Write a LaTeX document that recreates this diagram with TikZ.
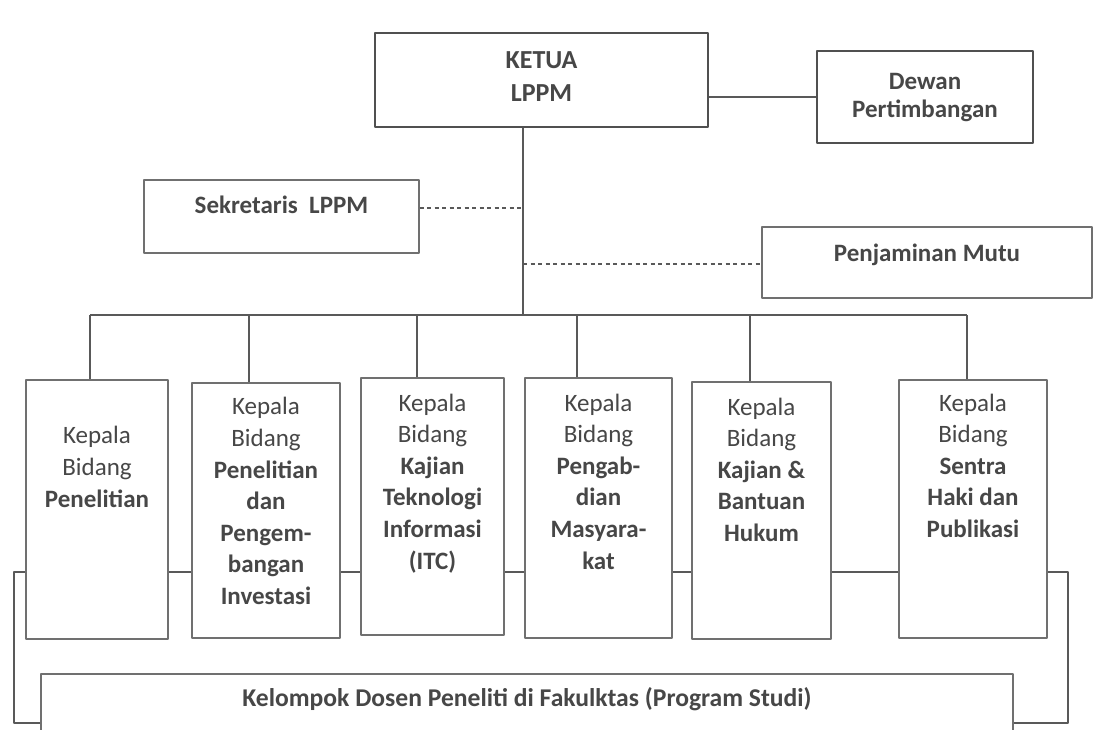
\documentclass[tikz,border=0pt]{standalone}
\usepackage{fontspec}
\setmainfont{Carlito}
\definecolor{tinta}{HTML}{474747}
\definecolor{garis}{HTML}{595959}
\definecolor{tepi}{HTML}{707070}
\begin{document}
\begin{tikzpicture}[x=1pt,y=-1pt,line join=round,
    kotak/.style={draw=tepi,line width=1.3pt,fill=white,inner sep=0pt},
    utama/.style={draw=garis!90!black,line width=2.4pt,fill=white,inner sep=0pt},
    isi/.style={text=tinta,align=center,inner sep=0pt,anchor=base,font=\fontsize{25}{31.6}\selectfont},
    hubung/.style={draw=garis,line width=1.4pt},
    putus/.style={draw=garis,line width=1.4pt,dash pattern=on 4pt off 3.5pt}]
    \clip (0,0) rectangle (1094,730);
    \fill[white] (0,0) rectangle (1094,730);
    % garis kelompok di belakang kotak bidang
    \coordinate (kiri) at (14,572);
    \coordinate (kanan) at (1068,572);
    \coordinate (kiribawah) at (14,723);
    \coordinate (kananbawah) at (1068,723);
    \node[kotak,minimum width=972pt,minimum height=96pt] (kel) at (527,722) {};
    \draw[hubung] (kiribawah -| kel.west) -- (kiribawah) -- (kiri) -- (kanan) -- (kananbawah) -- (kananbawah -| kel.east);
    % kotak atas
    \node[utama,minimum width=333pt,minimum height=94pt] (ketua) at (541.5,80) {};
    \node[utama,minimum width=216pt,minimum height=92pt] (dewan) at (925,97) {};
    \node[kotak,minimum width=275pt,minimum height=73pt] (sek) at (281.5,216.5) {};
    \node[kotak,minimum width=330pt,minimum height=71pt] (pm) at (927,262.5) {};
    % kotak bidang
    \node[kotak,minimum width=142pt,minimum height=259pt] (b1) at (97,509.5) {};
    \node[kotak,minimum width=148pt,minimum height=255pt] (b2) at (266,510.5) {};
    \node[kotak,minimum width=143pt,minimum height=257pt] (b3) at (432.5,506.5) {};
    \node[kotak,minimum width=147pt,minimum height=260pt] (b4) at (598.5,508) {};
    \node[kotak,minimum width=139pt,minimum height=257pt] (b5) at (761.5,510.5) {};
    \node[kotak,minimum width=148pt,minimum height=258pt] (b6) at (973,509) {};
    % teks (base = garis dasar baris terakhir)
    \node[isi,font=\fontsize{26}{33}\selectfont\bfseries] (tketua) at (541.5,102) {KETUA\\LPPM};
    \node[isi,font=\fontsize{25}{28}\selectfont\bfseries] (tdewan) at (925,118) {Dewan\\Pertimbangan};
    \node[isi,font=\fontsize{25}{30}\selectfont\bfseries] (tsek) at (281.5,213) {Sekretaris\ \ LPPM};
    \node[isi,font=\fontsize{25}{30}\selectfont\bfseries] (tpm) at (927,261) {Penjaminan Mutu};
    \node[isi,font=\fontsize{25.6}{30}\selectfont\bfseries] (tkel) at (527,706) {Kelompok Dosen Peneliti di Fakulktas (Program Studi)};
    \node[isi] (t1) at (97,507) {Kepala\\Bidang\\\textbf{Penelitian}};
    \node[isi] (t2) at (266,604.5) {Kepala\\Bidang\\\textbf{Penelitian}\\\textbf{dan}\\\textbf{Pengem-}\\\textbf{bangan}\\\textbf{Investasi}};
    \node[isi] (t3) at (432.5,569) {Kepala\\Bidang\\\textbf{Kajian}\\\textbf{Teknologi}\\\textbf{Informasi}\\\textbf{(ITC)}};
    \node[isi] (t4) at (598.5,569) {Kepala\\Bidang\\\textbf{Pengab-}\\\textbf{dian}\\\textbf{Masyara-}\\\textbf{kat}};
    \node[isi] (t5) at (761.5,541.5) {Kepala\\Bidang\\\textbf{Kajian \&}\\\textbf{Bantuan}\\\textbf{Hukum}};
    \node[isi] (t6) at (973,537.5) {Kepala\\Bidang\\\textbf{Sentra}\\\textbf{Haki dan}\\\textbf{Publikasi}};
    % garis hubung
    \coordinate (pusat) at (523,315);
    \coordinate (s1) at (90,315);
    \coordinate (s2) at (249,315);
    \coordinate (s3) at (417,315);
    \coordinate (s4) at (577,315);
    \coordinate (s5) at (750,315);
    \coordinate (s6) at (967,315);
    \coordinate (d1) at (523,208);
    \coordinate (d2) at (523,264);
    \draw[hubung] (ketua.south -| pusat) -- (pusat);
    \draw[hubung] (ketua.east |- dewan.west) -- (dewan.west);
    \draw[hubung] (s1) -- (s6);
    \foreach \i in {1,...,6}
        \draw[hubung] (s\i) -- (s\i |- b\i.north);
    \draw[putus] (sek.east |- d1) -- (d1);
    \draw[putus] (d2) -- (d2 -| pm.west);
\end{tikzpicture}
\end{document}
